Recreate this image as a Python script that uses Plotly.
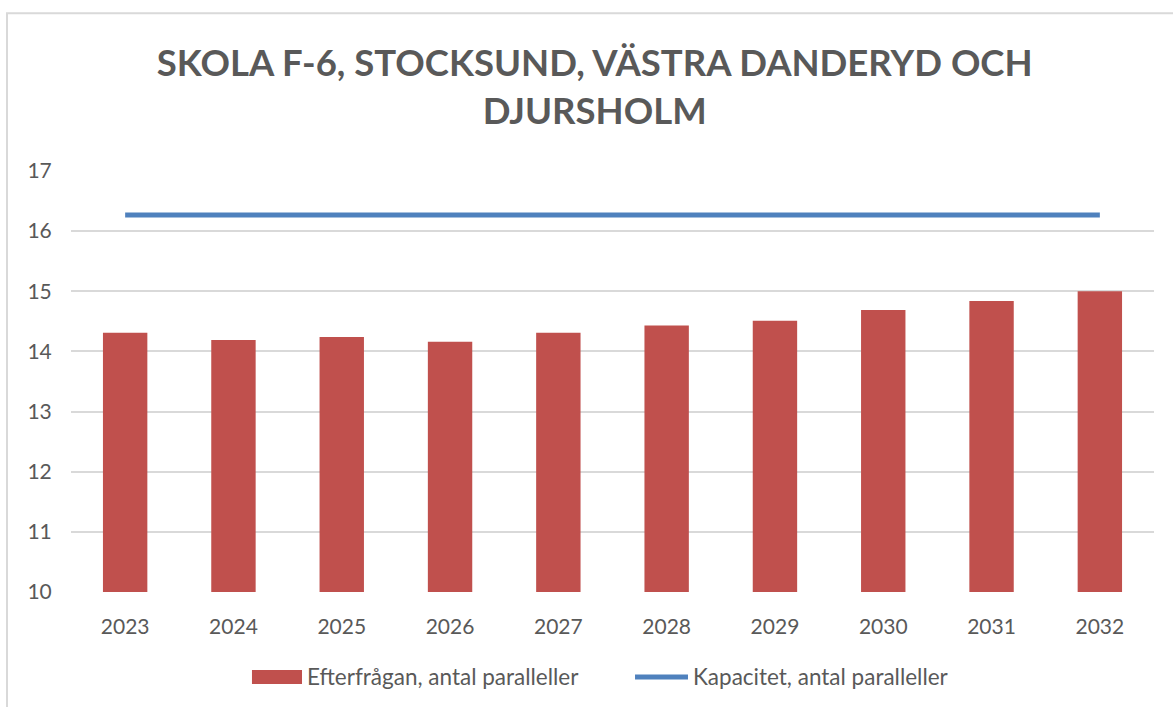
import plotly.graph_objects as go

years = ["2023", "2024", "2025", "2026", "2027", "2028", "2029", "2030", "2031", "2032"]
efterfragan = [14.31, 14.19, 14.24, 14.16, 14.31, 14.43, 14.51, 14.69, 14.84, 15.0]
kapacitet = [16.27] * 10

bar_name = "Efterfrågan, antal paralleller"
line_name = "Kapacitet, antal paralleller"
bar_color = "#c0504d"
line_color = "#4f81bd"
text_color = "#595959"

fig = go.Figure()
fig.add_trace(go.Bar(
    x=years, y=efterfragan, name=bar_name,
    marker=dict(color=bar_color, line=dict(width=0)),
))
fig.add_trace(go.Scatter(
    x=years, y=kapacitet, name=line_name,
    mode="lines", line=dict(color=line_color, width=5),
))

font_family = "Lato, 'Open Sans', sans-serif"

# Legend drawn below the plot: wide swatch + label for each series
legend_shapes = [
    dict(type="rect", xref="paper", yref="paper",
         x0=0.1671, x1=0.2133, y0=-0.2185, y1=-0.1853,
         line=dict(width=0), fillcolor=bar_color),
    dict(type="line", xref="paper", yref="paper",
         x0=0.5208, x1=0.5697, y0=-0.2019, y1=-0.2019,
         line=dict(color=line_color, width=5)),
]
legend_labels = [
    dict(text=bar_name, xref="paper", yref="paper", x=0.2161, y=-0.2019,
         xanchor="left", yanchor="middle", showarrow=False,
         font=dict(size=22.5, color=text_color, family=font_family)),
    dict(text=line_name, xref="paper", yref="paper", x=0.5725, y=-0.2019,
         xanchor="left", yanchor="middle", showarrow=False,
         font=dict(size=22.5, color=text_color, family=font_family)),
]

fig.update_layout(
    width=1173, height=707,
    margin=dict(l=71, r=19, t=171, b=115),
    paper_bgcolor="white", plot_bgcolor="white",
    font=dict(family=font_family, color=text_color, size=21),
    title=dict(
        text="<b>SKOLA F-6, STOCKSUND, VÄSTRA DANDERYD OCH<br>DJURSHOLM</b>",
        x=0.507, xanchor="center", y=0.892, yanchor="middle",
        font=dict(size=36.5, color=text_color, family=font_family),
    ),
    bargap=0.59,
    showlegend=False,
    xaxis=dict(showgrid=False, showline=False, ticks="", ticklabelstandoff=20,
               tickfont=dict(size=21)),
    yaxis=dict(
        range=[10, 17], dtick=1, showgrid=True, gridcolor="#d9d9d9", gridwidth=2,
        zeroline=False, showline=False, ticks="outside", ticklen=14,
        tickcolor="rgba(0,0,0,0)", tickfont=dict(size=21),
    ),
    shapes=[dict(
        type="rect", xref="paper", yref="paper",
        x0=-0.0591, x1=1.06, y0=-0.3, y1=1.375,
        line=dict(color="#d9d9d9", width=2), fillcolor="rgba(0,0,0,0)", layer="below",
    )] + legend_shapes,
    annotations=legend_labels,
)

fig.write_html("out.html")
